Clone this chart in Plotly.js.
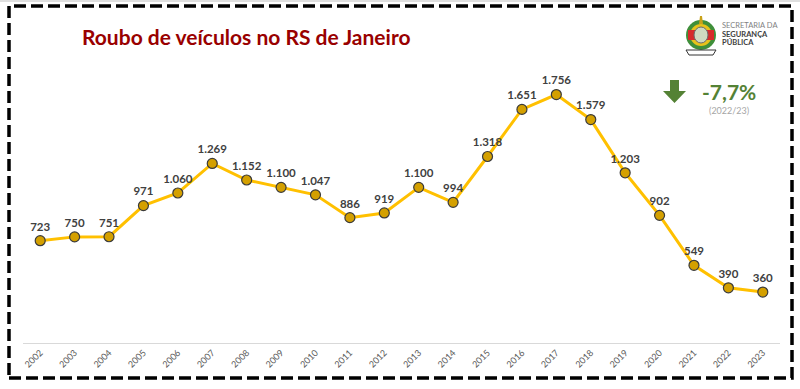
<!DOCTYPE html>
<html><head><meta charset="utf-8">
<script src="https://cdn.plot.ly/plotly-3.0.1.min.js"></script>
<style>html,body{margin:0;padding:0;background:#fff;}#chart{width:800px;height:389px;}</style>
</head><body><div id="chart"></div>
<script>
const years = ['2002','2003','2004','2005','2006','2007','2008','2009','2010','2011','2012','2013','2014','2015','2016','2017','2018','2019','2020','2021','2022','2023'];
const roubos = [723,750,751,971,1060,1269,1152,1100,1047,886,919,1100,994,1318,1651,1756,1579,1203,902,549,390,360];
const titleText = 'Roubo de veículos no RS de Janeiro';
const changeText = '-7,7%';
const changePeriod = '(2022/23)';

function fmt(v){ return String(v).replace(/\B(?=(\d{3})+(?!\d))/g,'.'); }

const W=800,H=389,ML=23,MR=20,MT=60,MB=46;
const PW=W-ML-MR, PH=H-MT-MB;
const px=x=>(x-ML)/PW, py=y=>(H-MB-y)/PH;

const shapes=[];
shapes.push({type:'rect',xref:'paper',yref:'paper',x0:px(9),x1:px(792),y0:py(378),y1:py(6),
  line:{color:'#000',width:3.5,dash:'12px,5px'},fillcolor:'rgba(0,0,0,0)',layer:'above'});
shapes.push({type:'line',xref:'paper',yref:'paper',x0:px(0),x1:px(800),y0:py(1),y1:py(1),line:{color:'#bfbfbf',width:1}});
function path(pts){return 'M'+pts.map(p=>px(p[0])+','+py(p[1])).join(' L')+' Z';}
shapes.push({type:'path',xref:'paper',yref:'paper',path:path([[670,80],[679,80],[679,91],[686,91],[674.5,103],[663,91],[670,91]]),
  fillcolor:'#548235',line:{width:0}});
// crest approximation
shapes.push({type:'circle',xref:'paper',yref:'paper',x0:px(686),x1:px(716),y0:py(50),y1:py(20),fillcolor:'#3f8f3a',line:{width:0}});
shapes.push({type:'circle',xref:'paper',yref:'paper',x0:px(690),x1:px(712),y0:py(46),y1:py(24),fillcolor:'#e8c21a',line:{width:0}});
shapes.push({type:'path',xref:'paper',yref:'paper',path:path([[688,30],[714,30],[714,40],[688,40]]),fillcolor:'#d62b2b',line:{width:0}});
shapes.push({type:'circle',xref:'paper',yref:'paper',x0:px(694),x1:px(708),y0:py(43),y1:py(27),fillcolor:'#cfd9c0',line:{color:'#6a6a6a',width:1}});
shapes.push({type:'path',xref:'paper',yref:'paper',path:path([[686,50],[716,50],[713,55],[689,55]]),fillcolor:'#ffffff',line:{color:'#333',width:1}});
shapes.push({type:'path',xref:'paper',yref:'paper',path:path([[700,16],[702,16],[703,24],[699,24]]),fillcolor:'#c9a21a',line:{width:0}});

const A=(x,y,text,font,xa)=>({xref:'paper',yref:'paper',x:px(x),y:py(y),text:text,showarrow:false,
  xanchor:xa||'center',yanchor:'middle',font:font});
const annotations=[
  A(246,36,'<b>'+titleText+'</b>',{family:'Lato, "Open Sans", sans-serif',size:21,color:'#990000'}),
  A(729,91,'<b>'+changeText+'</b>',{family:'Lato, sans-serif',size:21,color:'#548235'}),
  A(729,111,changePeriod,{family:'Lato, sans-serif',size:9,color:'#a6a6a6'}),
  A(720,25,'SECRETARIA DA',{family:'Lato, sans-serif',size:7.5,color:'#7f7f7f'},'left'),
  A(720,34,'<b>SEGURANÇA</b>',{family:'Lato, sans-serif',size:7.5,color:'#404040'},'left'),
  A(720,42,'<b>PÚBLICA</b>',{family:'Lato, sans-serif',size:7.5,color:'#404040'},'left')
];

const trace={x:years,y:roubos,type:'scatter',mode:'lines+markers+text',
  text:roubos.map(fmt),textposition:'top center',cliponaxis:false,
  textfont:{family:'Lato, "Open Sans", sans-serif',size:11.5,color:'#404040',weight:'bold'},
  line:{color:'#FFC000',width:3},
  marker:{size:10,color:'#D4A000',line:{color:'#3a3a3a',width:1.2}},
  hoverinfo:'none'};

const layout={width:W,height:H,margin:{l:ML,r:MR,t:MT,b:MB,pad:0},
  paper_bgcolor:'#fff',plot_bgcolor:'#fff',showlegend:false,
  xaxis:{type:'category',range:[-0.5,years.length-0.5],autorange:false,showgrid:false,zeroline:false,showline:true,linecolor:'#d9d9d9',linewidth:1,
    ticks:'',tickangle:-45,automargin:false,tickfont:{family:'Lato, sans-serif',size:9,color:'#595959'},fixedrange:true},
  yaxis:{range:[0,2000],visible:false,showgrid:false,zeroline:false,fixedrange:true},
  shapes:shapes,annotations:annotations};

Plotly.newPlot('chart',[trace],layout,{displayModeBar:false,staticPlot:true});
</script></body></html>
